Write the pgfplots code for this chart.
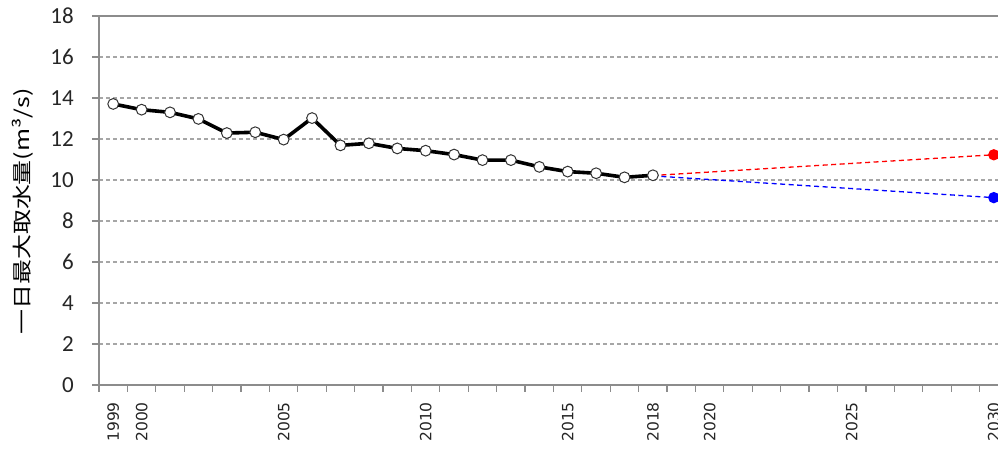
\documentclass[border=0pt]{standalone}
\usepackage{fontspec}
\setmainfont{Carlito}
\newfontfamily\dejavu{DejaVu Sans}
\newfontfamily\jp{Noto Sans CJK JP}
\usepackage{pgfplots}
\pgfplotsset{compat=1.18}
\definecolor{axgray}{HTML}{8C8C8C}
\definecolor{gridgray}{HTML}{A6A6A6}
\begin{document}
\begin{tikzpicture}
\begin{axis}[
  at={(99pt,64pt)}, anchor=south west,
  scale only axis, width=909pt, height=369pt,
  xmin=1998.5, xmax=2030.5, ymin=0, ymax=18,
  ytick={0,2,...,18},
  ymajorgrids,
  grid style={gridgray, line width=1.2pt, dash pattern=on 4pt off 3pt},
  axis line style={axgray, line width=1.6pt},
  tick style={axgray, line width=1.2pt},
  tick align=outside, major tick length=7pt,
  xtick pos=bottom, ytick pos=left,
  xtick={1998.5,1999.5,...,2030.5},
  xticklabels={},
  extra x ticks={1999,2000,2005,2010,2015,2018,2020,2025,2030},
  extra x tick labels={1999,2000,2005,2010,2015,2018,2020,2025,2030},
  extra x tick style={major tick length=0pt,
    xticklabel style={rotate=90, anchor=east}},
  xticklabel style={font=\dejavu\fontsize{15.5}{15.5}\selectfont, text=black!85, inner sep=0pt, yshift=-17pt},
  yticklabel style={font=\fontsize{23}{23}\selectfont, text=black!85, inner sep=0pt, xshift=-18pt},
  /pgf/number format/assume math mode=true,
  ylabel={\scalebox{1.28}[1]{\jp\fontsize{19.5}{19.5}\selectfont 一日最大取水量(m³/s)}},
  ylabel style={at={(axis description cs:-0.084,0.47)}, anchor=center, rotate=0, text=black},
  clip=false,
]
\addplot[black, line width=3.6pt, mark=*, mark size=5.4pt,
  mark options={fill=white, draw=black!80, line width=1pt}]
  coordinates {
  (1999,13.71) (2000,13.43) (2001,13.30) (2002,12.98) (2003,12.29)
  (2004,12.33) (2005,11.97) (2006,13.02) (2007,11.69) (2008,11.79)
  (2009,11.54) (2010,11.43) (2011,11.24) (2012,10.97) (2013,10.97)
  (2014,10.64) (2015,10.41) (2016,10.33) (2017,10.13) (2018,10.23)
  };
\addplot[red, line width=1.3pt, dash pattern=on 5pt off 3.5pt,
  mark=*, mark indices={2}, mark size=5pt, mark options={solid, fill=red, draw=red}]
  coordinates {(2018,10.22) (2030,11.23)};
\addplot[blue, line width=1.3pt, dash pattern=on 5pt off 3.5pt,
  mark=*, mark indices={2}, mark size=5pt, mark options={solid, fill=blue, draw=blue}]
  coordinates {(2018,10.20) (2030,9.14)};
\end{axis}
\pgfresetboundingbox
\useasboundingbox (0,0) rectangle (998pt,449pt);
\end{tikzpicture}
\end{document}
